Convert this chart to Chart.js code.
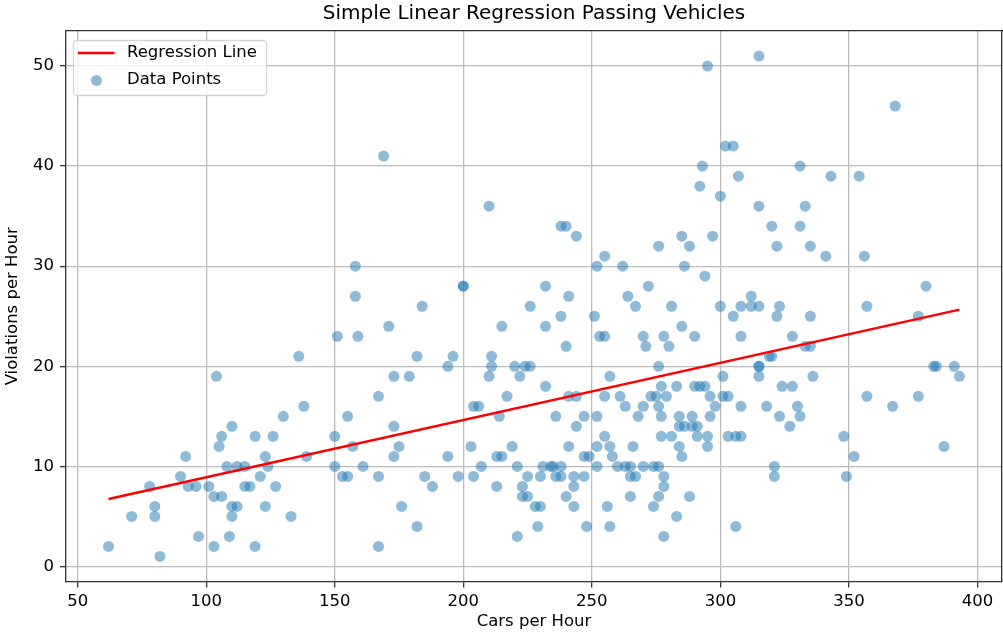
<!DOCTYPE html>
<html lang="en">
<head>
  <meta charset="UTF-8">
  <title>Simple Linear Regression Passing Vehicles</title>
  <style>
    body { margin: 0; background: #fff; }
  </style>
</head>
<body>
  <canvas id="myChart" width="1003" height="633"></canvas>

  <script src="https://cdn.jsdelivr.net/npm/chart.js"></script>
  <script>
    const carsPerHour = [
      169, 210, 158, 158, 200, 200, 184, 226, 295, 315, 302, 305, 293, 292, 300, 307, 315, 320, 238, 240,
      244, 252, 255, 262, 276, 285, 288, 297, 286, 294, 232, 241, 264, 272, 267, 281, 300, 308, 312, 312,
      315, 323, 368, 331, 343, 354, 333, 331, 322, 335, 341, 356, 380, 357, 305, 322, 335,
      104, 106, 105, 92, 90, 78, 93, 96, 101, 103, 106, 80, 80, 71, 97, 103, 62, 82, 109,
      136, 151, 159, 138, 130, 155, 110, 119, 126, 150, 157, 123, 139, 108, 112, 115, 124, 150, 161, 121,
      153, 155, 115, 117, 127, 110, 112, 123, 110, 133, 119,
      171, 215, 182, 196, 211, 194, 211, 220, 224, 226, 173, 179, 210, 222, 167, 217, 204, 206, 214, 173,
      175, 173, 194, 203, 219, 213, 215, 207, 221, 167, 185, 188, 198, 204, 225, 213, 223, 223, 225, 176,
      228, 230, 182, 229, 221, 167,
      238, 251, 232, 285, 240, 253, 255, 270, 271, 278, 280, 276, 257, 232, 277, 283, 241, 244, 255, 261,
      273, 275, 279, 263, 270, 276, 236, 247, 252, 268, 277, 284, 244, 284, 286, 255, 277, 281, 241, 252,
      257, 266, 284, 247, 249, 258, 285, 231, 234, 235, 238, 252, 260, 263, 265, 270, 274, 276, 230, 236,
      238, 243, 247, 265, 267, 278, 243, 278, 240, 265, 276, 243, 256, 274, 283, 248, 257, 278, 288,
      290, 308, 328, 333, 335, 315, 315, 315, 319, 320, 301, 336, 290, 292, 294, 324, 328, 296, 301, 303,
      298, 308, 318, 330, 289, 296, 323, 331, 289, 291, 327, 291, 295, 303, 306, 308, 348, 295, 321, 321,
      349, 306,
      377, 383, 384, 391, 393, 357, 377, 367, 352, 387
    ];
    const violationsPerHour = [
      41, 36, 30, 27, 28, 28, 26, 26, 50, 51, 42, 42, 40, 38, 37, 39, 36, 34, 34, 34,
      33, 30, 31, 30, 32, 33, 32, 33, 30, 29, 28, 27, 27, 28, 26, 26, 26, 26, 27, 26,
      26, 26, 46, 40, 39, 39, 36, 34, 32, 32, 31, 31, 28, 26, 25, 25, 25,
      19, 13, 12, 11, 9, 8, 8, 8, 8, 7, 7, 6, 5, 5, 3, 2, 2, 1, 3,
      21, 23, 23, 16, 15, 15, 14, 13, 13, 13, 12, 11, 11, 10, 10, 10, 10, 10, 10, 9,
      9, 9, 8, 8, 8, 6, 6, 6, 5, 5, 2,
      24, 24, 21, 21, 21, 20, 20, 20, 20, 20, 19, 19, 19, 19, 17, 17, 16, 16, 15, 14,
      12, 11, 11, 12, 12, 11, 11, 10, 10, 9, 9, 8, 9, 9, 9, 8, 8, 7, 7, 6,
      6, 6, 4, 4, 3, 2,
      25, 25, 24, 24, 22, 23, 23, 23, 22, 23, 22, 20, 19, 18, 18, 18, 17, 17, 17, 17,
      17, 17, 17, 16, 16, 16, 15, 15, 15, 15, 15, 15, 14, 14, 14, 13, 13, 13, 12, 12,
      12, 12, 12, 11, 11, 11, 11, 10, 10, 10, 10, 10, 10, 10, 10, 10, 10, 10, 9, 9,
      9, 9, 9, 9, 9, 9, 8, 8, 7, 7, 7, 6, 6, 6, 5, 4, 4, 3, 7,
      23, 23, 23, 22, 22, 20, 20, 19, 21, 21, 19, 19, 18, 18, 18, 18, 18, 17, 17, 17,
      16, 16, 16, 16, 15, 15, 15, 15, 14, 14, 14, 13, 13, 13, 13, 13, 13, 12, 10, 9,
      9, 4,
      25, 20, 20, 20, 19, 17, 17, 16, 11, 12
    ];

    // fitted line, end points
    const regressionX = [62, 393];
    const regressionY = [6.75, 25.66];

    const xTicks = [50, 100, 150, 200, 250, 300, 350, 400];
    const yTicks = [0, 10, 20, 30, 40, 50];

    const FONT = 'DejaVu Sans';
    Chart.defaults.font.family = FONT;
    Chart.defaults.font.size = 16.5;
    Chart.defaults.color = '#000';

    const gridColor = '#bcbcbc';
    const spine = { display: true, color: '#333', width: 1.3 };

    // matplotlib style legend box in the upper left of the axes
    const legendBox = {
      id: 'legendBox',
      afterDraw(chart) {
        const { ctx, chartArea: a } = chart;
        const [lineSet, dotSet] = chart.data.datasets;
        const x0 = a.left + 7.5, y0 = a.top + 9.5;
        ctx.save();
        ctx.beginPath();
        ctx.roundRect(x0, y0, 193, 55, 3.5);
        ctx.fillStyle = 'rgba(255,255,255,0.8)';
        ctx.fill();
        ctx.strokeStyle = 'rgba(204,204,204,0.8)';
        ctx.lineWidth = 1.3;
        ctx.stroke();

        ctx.beginPath();
        ctx.moveTo(x0 + 4.5, y0 + 12.5);
        ctx.lineTo(x0 + 41, y0 + 12.5);
        ctx.strokeStyle = lineSet.borderColor;
        ctx.lineWidth = 2.5;
        ctx.stroke();

        ctx.beginPath();
        ctx.arc(x0 + 23, y0 + 40, 5.5, 0, Math.PI * 2);
        ctx.fillStyle = dotSet.backgroundColor;
        ctx.fill();

        ctx.fillStyle = '#000';
        ctx.font = '16.5px "' + FONT + '"';
        ctx.textBaseline = 'middle';
        ctx.fillText(lineSet.label, x0 + 53.5, y0 + 12.5);
        ctx.fillText(dotSet.label, x0 + 53.5, y0 + 39.5);
        ctx.restore();
      }
    };

    const ctx = document.getElementById('myChart');
    const myChart = new Chart(ctx, {
      type: 'scatter',
      data: {
        datasets: [{
          label: 'Regression Line',
          data: regressionX.map((x, i) => ({ x: x, y: regressionY[i] })),
          showLine: true,
          borderColor: 'red',
          borderWidth: 2.5,
          pointRadius: 0,
          xAxisID: 'x',
          yAxisID: 'y'
        }, {
          label: 'Data Points',
          data: carsPerHour.map((x, i) => ({ x: x, y: violationsPerHour[i] })),
          backgroundColor: 'rgba(31, 119, 180, 0.5)',
          borderWidth: 0,
          pointRadius: 5.5,
          xAxisID: 'x',
          yAxisID: 'y'
        }]
      },
      options: {
        responsive: false,
        animation: false,
        layout: { padding: 0, autoPadding: false },
        plugins: {
          legend: { display: false },
          title: { display: false },
          tooltip: { enabled: false }
        },
        scales: {
          x: {
            type: 'linear',
            position: 'bottom',
            min: 45.45,
            max: 409.55,
            afterBuildTicks: s => { s.ticks = xTicks.map(v => ({ value: v })); },
            afterFit: s => { s.height = 51.5; s.paddingLeft = 0; s.paddingRight = 0; },
            grid: { color: gridColor, lineWidth: 1.3, tickLength: 6, tickColor: '#333', tickWidth: 1.3 },
            border: spine,
            ticks: { padding: 4, maxRotation: 0 },
            title: { display: true, text: 'Cars per Hour', padding: { top: 0, bottom: 1 } }
          },
          y: {
            type: 'linear',
            position: 'left',
            min: -1.5,
            max: 53.5,
            afterBuildTicks: s => { s.ticks = yTicks.map(v => ({ value: v })); },
            afterFit: s => { s.width = 66; s.paddingTop = 0; s.paddingBottom = 0; },
            grid: { color: gridColor, lineWidth: 1.3, tickLength: 6, tickColor: '#333', tickWidth: 1.3 },
            border: spine,
            ticks: { padding: 6 },
            title: { display: true, text: 'Violations per Hour', padding: { top: 3, bottom: 0 } }
          },
          top: {
            type: 'linear',
            axis: 'x',
            position: 'top',
            min: 0,
            max: 1,
            afterFit: s => { s.height = 31; s.paddingLeft = 0; s.paddingRight = 0; },
            grid: { display: false },
            border: spine,
            ticks: { display: false },
            title: {
              display: true,
              text: 'Simple Linear Regression Passing Vehicles',
              font: { size: 20 },
              padding: { top: 2, bottom: 0 }
            }
          },
          right: {
            type: 'linear',
            axis: 'y',
            position: 'right',
            min: 0,
            max: 1,
            afterFit: s => { s.width = 1; s.paddingTop = 0; s.paddingBottom = 0; },
            grid: { display: false },
            border: spine,
            ticks: { display: false }
          }
        }
      },
      plugins: [legendBox]
    });
  </script>
</body>
</html>
